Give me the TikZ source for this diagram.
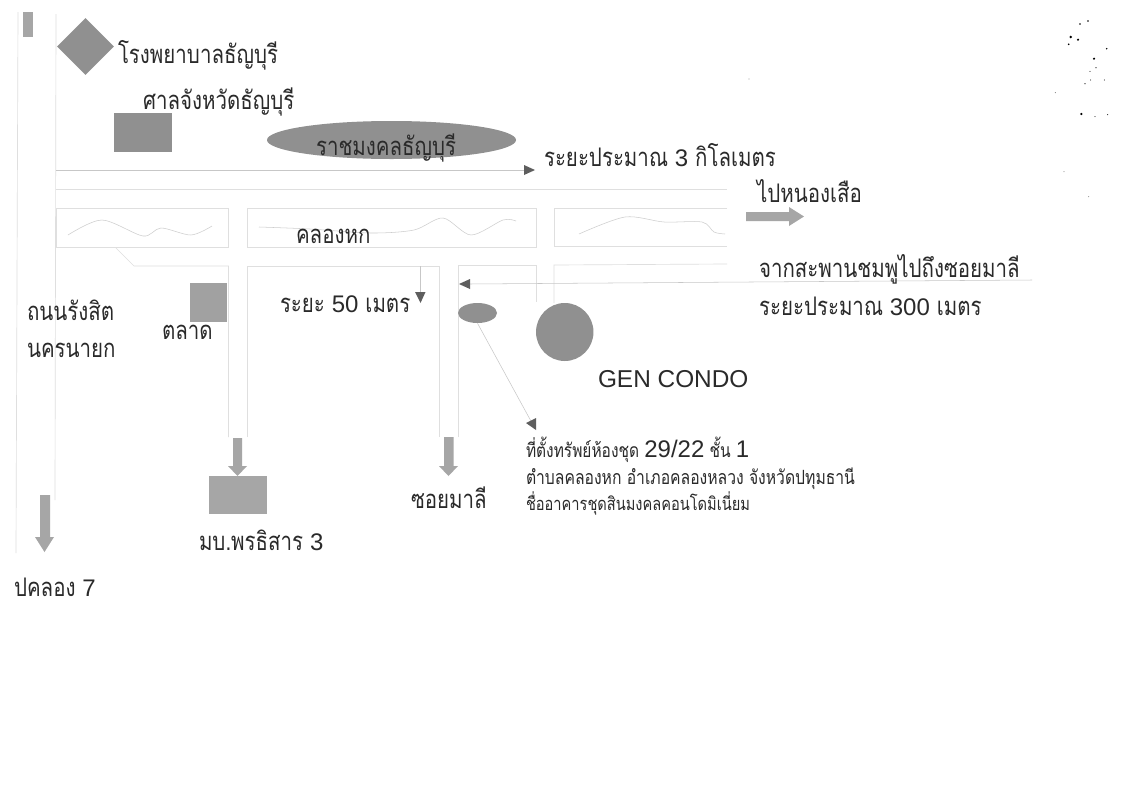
\documentclass[tikz,border=0pt]{standalone}
\usepackage{fontspec}
\setmainfont[Script=Thai,FakeStretch=0.8]{Loma}
\newfontfamily\lat{Liberation Sans}
\newcommand{\dg}[2][18]{{\lat\fontsize{#1}{#1}\selectfont #2}}
\usetikzlibrary{shapes.geometric}
\definecolor{roadc}{HTML}{DFDFDF}
\definecolor{wavec}{HTML}{CDCDCD}
\definecolor{fillc}{HTML}{909090}
\definecolor{fillb}{HTML}{A6A6A6}
\definecolor{headc}{HTML}{5E5E5E}
\definecolor{inkc}{HTML}{2A2A2A}
\tikzset{
  road/.style={draw=roadc,line width=0.5pt},
  wave/.style={draw=wavec,line width=0.4pt},
  guide/.style={draw=black!22,line width=0.4pt},
  head/.style={fill=headc,draw=none},
  solid shape/.style={fill=fillc,draw=none},
  blockarrow/.style={fill=fillb,draw=none},
  lab/.style={anchor=base west,inner sep=0pt,outer sep=0pt,yshift=-0.75pt,text=inkc,font=\fontsize{#1}{#1}\selectfont},
  lab/.default=19.2,
  speck/.style={fill=black,draw=none}
}
\begin{document}
\begin{tikzpicture}[x=0.75pt,y=-0.75pt]
\useasboundingbox (0,0) rectangle (1133,800);
\fill[white] (0,0) rectangle (1133,800);
% roads
\draw[road] (18,12) -- (16,553);
\draw[road] (56,14) -- (55,500);
\draw[road] (56,189.5) -- (727,189.5);
\draw[road] (56,208.5) rectangle (228,247);
\draw[road] (247.5,208.5) rectangle (536,247);
\draw[road] (727,208) -- (554,208) -- (554,246.5) -- (727,246.5);
\draw[road] (116,248) -- (134,266) -- (228.5,266) -- (228.5,437);
\draw[road] (247.5,437) -- (247.5,266) -- (439.5,266) -- (439.5,437);
\draw[road] (458,437) -- (458,265) -- (536,265) -- (536,302);
\draw[road] (554,303) -- (554,265) -- (727,264);
% waves
\draw[wave] plot[smooth] coordinates {(68,235) (102,220) (143,236) (161,228) (191,235) (212,226)};
\draw[wave] plot[smooth] coordinates {(259,227) (310,229) (371,233) (414,230) (443,218) (471,235) (503,220) (516,221)};
\draw[wave] plot[smooth] coordinates {(579,234) (625,217) (664,222) (702,222) (714,232) (725,234)};
% shapes
\fill[fillb] (23,12) rectangle (33,37);
\node[solid shape,diamond,minimum width=42.75pt,minimum height=42.75pt,inner sep=0pt,aspect=1] (hosp) at (85.5,46.5) {};
\fill[fillc] (114,113) rectangle (172,152);
\node[solid shape,ellipse,minimum width=186.75pt,minimum height=28.5pt,inner sep=0pt] (rmut) at (391.5,140) {};
\fill[fillc!85!white] (190,283) rectangle (227,322);
\fill[fillb] (209,476) rectangle (267,514);
\node[solid shape,ellipse,minimum width=29.25pt,minimum height=15pt,inner sep=0pt] (site) at (477.5,313) {};
\node[solid shape,ellipse,minimum width=43.1pt,minimum height=43.5pt,inner sep=0pt] (gen) at (564.75,332) {};
% thin arrows
\coordinate (a1s) at (56,170); \coordinate (a1e) at (525,170);
\draw[guide] (a1s) -- (a1e);
\fill[head] (524,165) -- (535,170) -- (524,175) -- cycle;
\coordinate (a2s) at (1032,280); \coordinate (a2e) at (469,284);
\draw[guide] (a2s) -- (a2e);
\fill[head] (459,284) -- (470,279) -- (470,289) -- cycle;
\coordinate (a3s) at (420,266); \coordinate (a3e) at (420,293);
\draw[guide] (a3s) -- (a3e);
\fill[head] (415,292) -- (425.5,292) -- (420.5,303) -- cycle;
\coordinate (a4e) at (532,423);
\draw[guide] (site.south) -- (a4e);
\fill[head] (526,423) -- (536,418) -- (536,430) -- cycle;
% block arrows
\fill[blockarrow] (746,212) -- (789,212) -- (789,207) -- (804,216.5) -- (789,226) -- (789,221) -- (746,221) -- cycle;
\fill[blockarrow] (233,438) -- (242,438) -- (242,466) -- (247,466) -- (237.5,476) -- (228,466) -- (233,466) -- cycle;
\fill[blockarrow] (444,437) -- (453.5,437) -- (453.5,466) -- (458,466) -- (448.5,476) -- (439,466) -- (444,466) -- cycle;
\fill[blockarrow] (40,495) -- (50,495) -- (50,537) -- (54,537) -- (44.5,552) -- (35,537) -- (40,537) -- cycle;
% labels
\node[lab] (t1) at (118,62) {โรงพยาบาลธัญบุรี};
\node[lab] (t2) at (143,108) {ศาลจังหวัดธัญบุรี};
\node[lab] (t3) at (316,154) {ราชมงคลธัญบุรี};
\node[lab] (t4) at (544,165) {ระยะประมาณ \dg{3} กิโลเมตร};
\node[lab] (t5) at (757,201) {ไปหนองเสือ};
\node[lab] (t6) at (759,276) {จากสะพานชมพูไปถึงซอยมาลี};
\node[lab] (t7) at (759,314) {ระยะประมาณ \dg{300} เมตร};
\node[lab] (t8) at (598,386) {\dg[18.3]{GEN CONDO}};
\node[lab] (t9) at (296,242) {คลองหก};
\node[lab] (t10) at (280,311) {ระยะ \dg{50} เมตร};
\node[lab] (t11) at (27,319) {ถนนรังสิต};
\node[lab] (t12) at (27,356) {นครนายก};
\node[lab] (t13) at (162,338) {ตลาด};
\node[lab=14.5] (t14) at (526,456) {ที่ตั้งทรัพย์ห้องชุด \dg{29/22} ชั้น \dg{1}};
\node[lab=14.7] (t15) at (526,483) {ตำบลคลองหก อำเภอคลองหลวง จังหวัดปทุมธานี};
\node[lab=13.7] (t16) at (526,509) {ชื่ออาคารชุดสินมงคลคอนโดมิเนี่ยม};
\node[lab] (t17) at (411,507) {ซอยมาลี};
\node[lab] (t18) at (199,549) {มบ.พรธิสาร \dg{3}};
\node[lab] (t19) at (14,595) {ปคลอง \dg{7}};
% specks
\foreach \sx/\sy/\sr in {1080/24/0.6,1088/21/0.6,1070.7/37/1,1078/39.7/0.9,1068.7/44.3/0.7,1106.7/48.7/0.6,1094/58.7/0.9,1096/67.7/0.5,1090/71.3/0.4,1090.7/80/0.4,1085/83.7/0.5,1104.3/80/0.4,1055.3/92.7/0.3,1081.3/114/0.9,1095/116.7/0.4,1107.7/114.7/0.4,1064/171.7/0.3,1088.7/196.7/0.3,749/79/0.3}{
  \fill[speck] (\sx,\sy) circle[radius=\sr pt];
}
\end{tikzpicture}
\end{document}
